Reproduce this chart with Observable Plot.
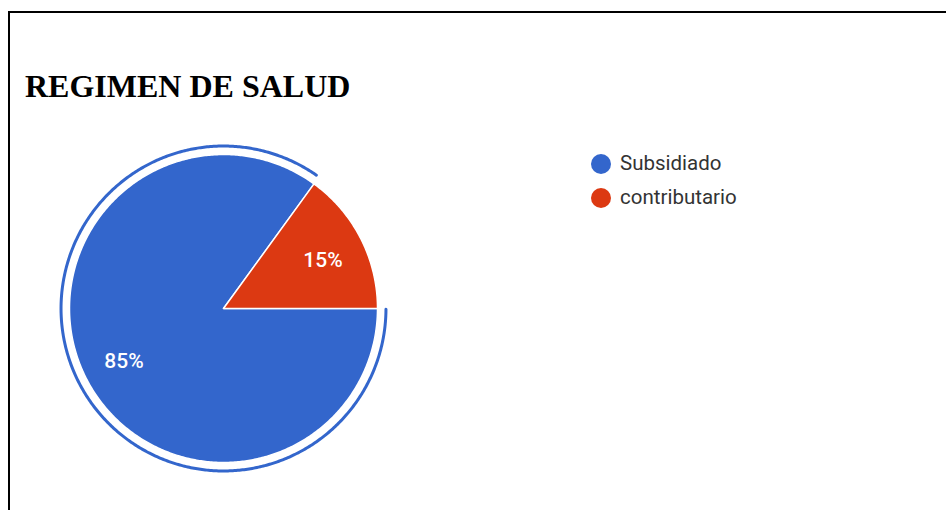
<!DOCTYPE html>
<html>
<head>
<meta charset="utf-8">
<script src="https://cdn.jsdelivr.net/npm/d3@7"></script>
<script src="https://cdn.jsdelivr.net/npm/@observablehq/plot@0.6"></script>
<style>
  html, body { margin: 0; padding: 0; background: #fff; }
  #wrap { position: relative; width: 946px; height: 510px; overflow: hidden; }
  #frame { position: absolute; left: 8px; top: 11px; width: 2000px; height: 2000px; border-left: 2px solid #000; border-top: 2px solid #000; }
  #title { position: absolute; left: 25px; top: 66px; font: bold 32px "Liberation Serif", "Times New Roman", serif; color: #000; white-space: nowrap; line-height: 40px; }
  #chart { position: absolute; left: 0; top: 0; }
  .leg { position: absolute; left: 591px; font: 20.5px Roboto, "Liberation Sans", Arial, sans-serif; color: #333; white-space: nowrap; line-height: 22px; }
  .leg span.sw { display: inline-block; width: 20px; height: 20px; border-radius: 50%; vertical-align: -4px; margin-right: 9px; }
</style>
</head>
<body>
<div id="wrap">
  <div id="frame"></div>
  <div id="chart"></div>
  <div id="title">REGIMEN DE SALUD</div>
  <div id="legend"></div>
</div>
<script>
const title = "REGIMEN DE SALUD";
const categories = ["Subsidiado", "contributario"];
const values = [85, 15];
const colors = ["#3366cc", "#dc3912"];

// Pie layout (start at 3 o'clock, clockwise, in data order)
const pie = d3.pie().sort(null).startAngle(Math.PI / 2).endAngle(Math.PI / 2 + 2 * Math.PI);
const arcs = pie(values).map((a, i) => ({...a, category: categories[i], color: colors[i]}));
const total = d3.sum(values);

function arcPts(a0, a1, r) {
  const n = Math.max(8, Math.ceil((a1 - a0) / 0.01));
  return d3.range(n + 1).map(k => {
    const a = a0 + (a1 - a0) * k / n;
    return [r * Math.sin(a), r * Math.cos(a)];
  });
}

const slices = {
  type: "FeatureCollection",
  features: arcs.map(a => ({
    type: "Feature",
    properties: {color: a.color, category: a.category},
    geometry: {type: "Polygon", coordinates: [[[0, 0], ...arcPts(a.startAngle, a.endAngle, 1), [0, 0]]]}
  }))
};

// highlighted ring around the first (selected) slice
const sel = arcs[0];
const ring = {
  type: "Feature",
  properties: {},
  geometry: {type: "LineString", coordinates: arcPts(sel.startAngle + 0.004, sel.endAngle - 0.02, 1.055)}
};

const labels = arcs.map(a => {
  const m = (a.startAngle + a.endAngle) / 2;
  const r = 0.725;
  return {x: r * Math.sin(m), y: r * Math.cos(m), text: Math.round(a.value / total * 100) + "%"};
});

const plot = Plot.plot({
  width: 946,
  height: 510,
  margin: 0,
  projection: d3.geoIdentity().reflectY(true).scale(154).translate([223, 308]),
  marks: [
    Plot.geo(slices, {fill: d => d.properties.color, stroke: "#fff", strokeWidth: 1.5}),
    Plot.geo(ring, {fill: "none", stroke: colors[0], strokeWidth: 3}),
    Plot.text(labels, {x: "x", y: "y", text: "text", fill: "#fff", fontSize: 21, fontWeight: 500, fontFamily: "Roboto, Liberation Sans, Arial, sans-serif", textAnchor: "middle", dy: 2})
  ]
});
document.getElementById("chart").appendChild(plot);

const leg = document.getElementById("legend");
categories.forEach((c, i) => {
  const d = document.createElement("div");
  d.className = "leg";
  d.style.top = (152 + i * 34) + "px";
  d.innerHTML = `<span class="sw" style="background:${colors[i]}"></span>${c}`;
  leg.appendChild(d);
});
</script>
</body>
</html>
